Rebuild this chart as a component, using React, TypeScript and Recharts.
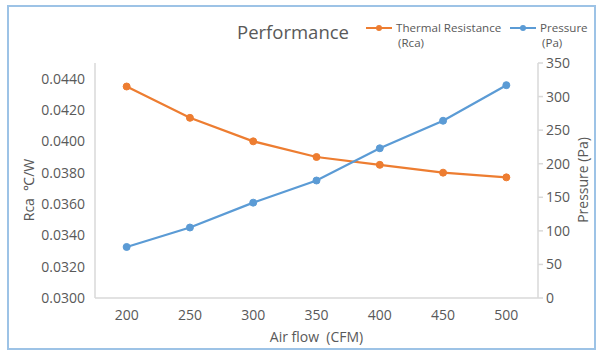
import React from 'react';
import { ComposedChart, Line, XAxis, YAxis, Label } from 'recharts';

const airFlow = [200, 250, 300, 350, 400, 450, 500];
const thermalResistance = [0.0435, 0.0415, 0.04, 0.039, 0.0385, 0.038, 0.0377];
const pressure = [76, 105, 142, 175, 223, 264, 317];
const leftTicks = [0.03, 0.032, 0.034, 0.036, 0.038, 0.04, 0.042, 0.044];
const rightTicks = [0, 50, 100, 150, 200, 250, 300, 350];

const ORANGE = '#ED7D31';
const BLUE = '#5B9BD5';
const TEXT = '#595959';
const AXIS = '#D9D9D9';
const FONT = '"Open Sans", sans-serif';

const data = airFlow.map((f, i) => ({ flow: f, rca: thermalResistance[i], pa: pressure[i] }));

const legendItems = [
  { color: ORANGE, lines: ['Thermal Resistance', '(Rca)'], left: 366, width: 140 },
  { color: BLUE, lines: ['Pressure', '(Pa)'], left: 510, width: 80 },
];

const LegendBlock = () => (
  <div style={{ position: 'absolute', left: 0, top: 0, width: 603, height: 60, fontFamily: FONT }}>
    {legendItems.map((it) => (
      <div key={it.color} style={{ position: 'absolute', left: it.left, top: 20, width: it.width }}>
        <svg width={26} height={10} style={{ position: 'absolute', left: 0, top: 3 }}>
          <line x1={0} y1={5} x2={26} y2={5} stroke={it.color} strokeWidth={2} />
          <circle cx={13} cy={5} r={3} fill={it.color} />
        </svg>
        <div style={{ position: 'absolute', left: 30, top: 0, fontSize: 11.6, lineHeight: '15px', color: TEXT, whiteSpace: 'nowrap' }}>
          {it.lines[0]}
        </div>
        <div style={{ position: 'absolute', left: 32, top: 15, fontSize: 11.6, lineHeight: '15px', color: TEXT, whiteSpace: 'nowrap' }}>
          {it.lines[1]}
        </div>
      </div>
    ))}
  </div>
);

export default function App() {
  return (
    <div style={{ position: 'absolute', left: 0, top: 0, width: 603, height: 355, background: '#fff' }}>
      <div
        style={{
          position: 'absolute',
          left: 7,
          top: 5,
          width: 589,
          height: 345,
          boxSizing: 'border-box',
          border: '2px solid #9DC3E6',
        }}
      />
      <div
        style={{
          position: 'absolute',
          left: 237,
          top: 19,
          fontFamily: FONT,
          fontSize: 18.5,
          lineHeight: '26px',
          color: TEXT,
          whiteSpace: 'nowrap',
        }}
      >
        Performance
      </div>
      <LegendBlock />
      <div style={{ position: 'absolute', left: 0, top: 0 }}>
        <ComposedChart
          width={603}
          height={355}
          data={data}
          margin={{ top: 63, right: 0, bottom: 0, left: 0 }}
          style={{ fontFamily: FONT }}
        >
          <XAxis
            dataKey="flow"
            type="category"
            scale="band"
            height={57}
            axisLine={{ stroke: AXIS, strokeWidth: 1.5 }}
            tickLine={false}
            tick={{ fill: TEXT, fontSize: 14, fontFamily: FONT }}
            tickMargin={6}
          >
            <Label
              content={({ viewBox }: any) => (
                <text
                  x={viewBox.x + viewBox.width / 2}
                  y={viewBox.y + 44}
                  textAnchor="middle"
                  fill={TEXT}
                  fontSize={14}
                  fontFamily={FONT}
                >
                  {'Air flow\u00A0\u00A0(CFM)'}
                </text>
              )}
            />
          </XAxis>
          <YAxis
            yAxisId="left"
            orientation="left"
            width={95}
            domain={[0.03, 0.045]}
            ticks={leftTicks}
            interval={0}
            allowDataOverflow
            tickFormatter={(v: number) => v.toFixed(4)}
            axisLine={{ stroke: AXIS, strokeWidth: 1.5 }}
            tickLine={false}
            tickMargin={4}
            tick={{ fill: TEXT, fontSize: 14, fontFamily: FONT }}
          >
            <Label
              content={() => (
                <text
                  x={28}
                  y={190}
                  transform="rotate(-90 28 190)"
                  textAnchor="middle"
                  dominantBaseline="central"
                  fill={TEXT}
                  fontSize={14}
                  fontFamily={FONT}
                >
                  {'Rca\u00A0\u00A0℃/W'}
                </text>
              )}
            />
          </YAxis>
          <YAxis
            yAxisId="right"
            orientation="right"
            width={65}
            domain={[0, 350]}
            ticks={rightTicks}
            interval={0}
            axisLine={{ stroke: AXIS, strokeWidth: 1.5 }}
            tickLine={{ stroke: AXIS, strokeWidth: 1.5 }}
            tickSize={5}
            tickMargin={3}
            tick={{ fill: TEXT, fontSize: 14, fontFamily: FONT }}
          >
            <Label
              content={() => (
                <text
                  x={582}
                  y={180}
                  transform="rotate(-90 582 180)"
                  textAnchor="middle"
                  dominantBaseline="central"
                  fill={TEXT}
                  fontSize={14}
                  fontFamily={FONT}
                >
                  Pressure (Pa)
                </text>
              )}
            />
          </YAxis>
          <Line
            yAxisId="left"
            dataKey="rca"
            name="Thermal Resistance (Rca)"
            stroke={ORANGE}
            strokeWidth={2.25}
            dot={{ r: 3.5, fill: ORANGE, stroke: ORANGE, strokeWidth: 1 }}
            activeDot={false}
            isAnimationActive={false}
          />
          <Line
            yAxisId="right"
            dataKey="pa"
            name="Pressure (Pa)"
            stroke={BLUE}
            strokeWidth={2.25}
            dot={{ r: 3.5, fill: BLUE, stroke: BLUE, strokeWidth: 1 }}
            activeDot={false}
            isAnimationActive={false}
          />
        </ComposedChart>
      </div>
    </div>
  );
}
